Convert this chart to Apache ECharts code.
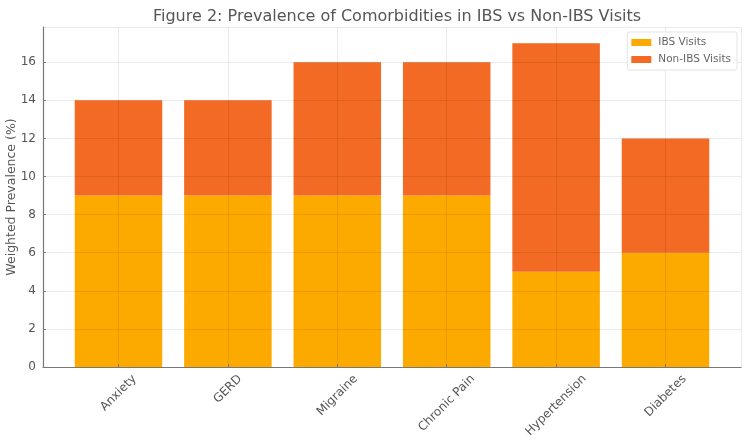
<!DOCTYPE html>
<html>
<head>
<meta charset="utf-8">
<script src="https://cdn.jsdelivr.net/npm/echarts@6/dist/echarts.min.js"></script>
<style>
  html, body { margin: 0; padding: 0; background: #fff; }
  #chart { width: 750px; height: 447px; }
</style>
</head>
<body>
<div id="chart"></div>
<script>
const categories = ['Anxiety', 'GERD', 'Migraine', 'Chronic Pain', 'Hypertension', 'Diabetes']
const ibsVisits = [9, 9, 9, 9, 5, 6]
const nonIbsVisits = [5, 5, 7, 7, 12, 6]
const yTicks = [0, 2, 4, 6, 8, 10, 12, 14, 16]

const chart = echarts.init( document.getElementById( 'chart' ) )

const font = 'DejaVu Sans'
const gridColor = 'rgba(0,0,0,0.08)'
const labelSize = 12
const yMax = 17.85

// outer frame: x runs -0.69 .. 5.69 like matplotlib's auto margins
const plotLeft = 43
const plotRight = 741
const unit = ( plotRight - plotLeft ) / 6.38

// rotated labels centred under the tick (matplotlib style), padding from text width
const ctx = document.createElement( 'canvas' ).getContext( '2d' )
ctx.font = labelSize + 'px ' + font
const labelRich = {}
categories.forEach( ( c, i ) => {
  const w = ctx.measureText( c ).width
  labelRich['c' + i] = {
    fontFamily : font,
    fontSize : labelSize,
    color : '#555',
    padding : [ w / 2, w / 2, 0, 0 ]
  }
} )

chart.setOption( {
  animation : false,
  backgroundColor : '#fff',
  title : {
    text : 'Figure 2: Prevalence of Comorbidities in IBS vs Non-IBS Visits',
    left : 392,
    textAlign : 'center',
    top : 4,
    textStyle : {
      fontFamily : font,
      fontSize : 16,
      fontWeight : 'normal',
      color : '#555'
    }
  },
  legend : {
    orient : 'vertical',
    right : 13,
    top : 32,
    itemWidth : 20,
    itemHeight : 7,
    itemGap : 6,
    padding : [ 5, 6, 5, 4 ],
    borderColor : '#e4e4e4',
    borderWidth : 1,
    borderRadius : 2,
    backgroundColor : '#fff',
    icon : 'rect',
    textStyle : { fontFamily : font, fontSize : 10.5, color : '#666', padding : [ 0, 0, 0, 2 ] },
    data : [ 'IBS Visits', 'Non-IBS Visits' ]
  },
  grid : [
    { left : plotLeft, right : 750 - plotRight, top : 27, bottom : 80, outerBoundsMode : 'none' },
    {
      left : plotLeft + 0.19 * unit,
      right : 750 - ( plotLeft + 6.19 * unit ),
      top : 27,
      bottom : 80,
      outerBoundsMode : 'none'
    }
  ],
  xAxis : [
    {
      gridIndex : 0,
      type : 'value',
      min : -0.69,
      max : 5.69,
      splitNumber : 6,
      z : 3,
      axisLine : { show : true, onZero : false, lineStyle : { color : '#777', width : 1.2 } },
      axisTick : { show : false },
      axisLabel : { show : false },
      splitLine : { show : true, lineStyle : { color : gridColor, width : 1 } }
    },
    {
      gridIndex : 1,
      type : 'category',
      data : categories,
      z : 3,
      axisLine : { show : false },
      axisTick : { show : true, inside : true, length : 3, alignWithLabel : true, lineStyle : { color : '#777' } },
      axisLabel : {
        interval : 0,
        rotate : 45,
        align : 'center',
        verticalAlign : 'middle',
        margin : 10,
        formatter : ( v, i ) => '{c' + i + '|' + v + '}',
        rich : labelRich
      },
      splitLine : { show : false }
    }
  ],
  yAxis : [
    {
      gridIndex : 0,
      type : 'value',
      min : 0,
      max : yMax,
      interval : 2,
      z : 3,
      name : 'Weighted Prevalence (%)',
      nameLocation : 'middle',
      nameGap : 25,
      nameMoveOverlap : false,
      nameTextStyle : { fontFamily : font, fontSize : 12.5, color : '#555' },
      axisLine : { show : true, onZero : false, lineStyle : { color : '#777', width : 1.2 } },
      axisTick : { show : true, inside : true, length : 3, lineStyle : { color : '#777' } },
      axisLabel : {
        fontFamily : font,
        fontSize : labelSize,
        color : '#555',
        margin : 7,
        showMaxLabel : false,
        formatter : v => yTicks.includes( v ) ? String( v ) : ''
      },
      splitLine : { show : true, lineStyle : { color : gridColor, width : 1 } }
    },
    {
      gridIndex : 1,
      type : 'value',
      min : 0,
      max : yMax,
      show : false
    }
  ],
  series : [
    {
      name : 'IBS Visits',
      type : 'bar',
      stack : 'total',
      xAxisIndex : 1,
      yAxisIndex : 1,
      barWidth : '80%',
      itemStyle : { color : '#FDAA00' },
      data : ibsVisits
    },
    {
      name : 'Non-IBS Visits',
      type : 'bar',
      stack : 'total',
      xAxisIndex : 1,
      yAxisIndex : 1,
      barWidth : '80%',
      itemStyle : { color : '#F26A23' },
      data : nonIbsVisits
    }
  ]
} )
</script>
</body>
</html>
